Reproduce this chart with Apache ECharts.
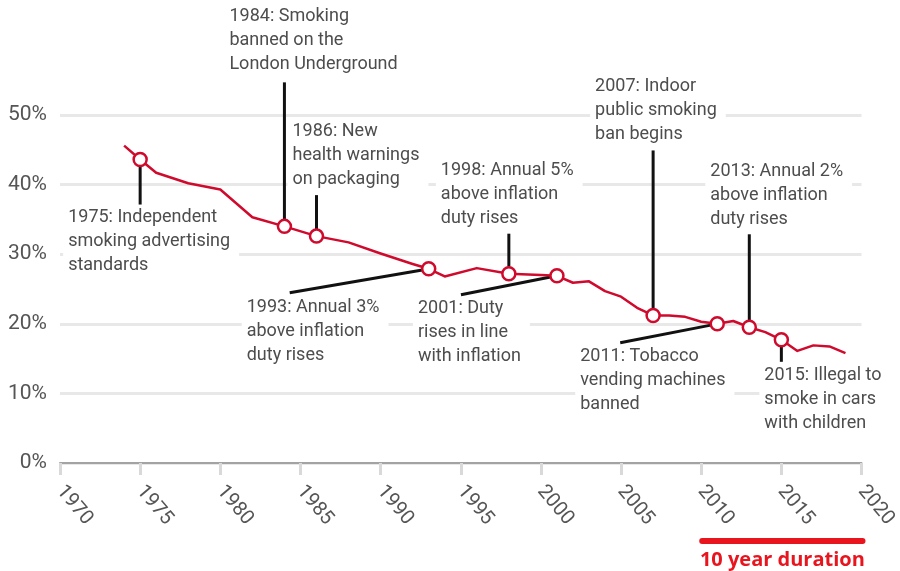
<!DOCTYPE html>
<html>
<head>
<meta charset="utf-8">
<title>Adult smoking prevalence and tobacco control milestones</title>
<script src="https://cdn.jsdelivr.net/npm/echarts@6/dist/echarts.min.js"></script>
<style>
  html, body { margin: 0; padding: 0; background: #fff; }
  #chart { width: 900px; height: 571px; }
</style>
</head>
<body>
<div id="chart"></div>
<script>
// Share of adults who smoke (%), by survey year
const years = [1974, 1975, 1976, 1978, 1980, 1982, 1984, 1986, 1988, 1990, 1992, 1993, 1994, 1996, 1998, 2000, 2001, 2002, 2003, 2004, 2005, 2006, 2007, 2008, 2009, 2010, 2011, 2012, 2013, 2014, 2015, 2016, 2017, 2018, 2019];
const smokingShare = [45.6, 43.6, 41.7, 40.2, 39.3, 35.3, 34.0, 32.6, 31.7, 30.1, 28.6, 27.9, 26.8, 28.0, 27.2, 27.0, 26.9, 25.9, 26.1, 24.7, 23.9, 22.3, 21.2, 21.2, 21.0, 20.3, 20.0, 20.4, 19.5, 18.8, 17.7, 16.1, 16.9, 16.75, 15.8];

// Policy milestones
const eventYears = [1975, 1984, 1986, 1993, 1998, 2001, 2007, 2011, 2013, 2015];
const eventLabels = [
  '1975: Independent\nsmoking advertising\nstandards',
  '1984: Smoking\nbanned on the\nLondon Underground',
  '1986: New\nhealth warnings\non packaging',
  '1993: Annual 3%\nabove inflation\nduty rises',
  '1998: Annual 5%\nabove inflation\nduty rises',
  '2001: Duty\nrises in line\nwith inflation',
  '2007: Indoor\npublic smoking\nban begins',
  '2011: Tobacco\nvending machines\nbanned',
  '2013: Annual 2%\nabove inflation\nduty rises',
  '2015: Illegal to\nsmoke in cars\nwith children'
];

// Axis ticks
const xTicks = [1970, 1975, 1980, 1985, 1990, 1995, 2000, 2005, 2010, 2015, 2020];
const yTicks = [0, 10, 20, 30, 40, 50];

// Span marked under the axis
const durationSpan = [2010, 2020];
const durationLabel = '10 year duration';

// Callout placement, in pixels relative to each milestone point:
// leader line from (l[0], l[1]) to (l[2], l[3]); text block top-left at t
const calloutLayout = [
  { l: [0, 7, 0, 45],         t: [-72, 46] },
  { l: [0, -7, 0, -144],      t: [-55, -222] },
  { l: [0, -7, 0, -41],       t: [-24, -117] },
  { l: [-6.4, 1.1, -139, 24], t: [-182, 27] },
  { l: [0, -7, 0, -40],       t: [-68, -115] },
  { l: [-6.4, 1.3, -96, 19],  t: [-139, 21] },
  { l: [0, -7, 0, -165],      t: [-58, -241] },
  { l: [-6.4, 1.3, -97, 19],  t: [-137, 21] },
  { l: [0, -7, 0, -93],       t: [-39, -168] },
  { l: [0, 7, 0, 22],         t: [-17, 24] }
];

const RED = '#cf0a2c';
const TEXT = '#4d4d4d';
const FONT = 'Roboto, "Noto Sans", sans-serif';

function shareIn(year) {
  return smokingShare[years.indexOf(year)];
}

const linePoints = years.map((y, i) => [y, smokingShare[i]]);
const eventPoints = eventYears.map((y, i) => [y, shareIn(y), i]);

const chart = echarts.init(document.getElementById('chart'), null, { renderer: 'canvas' });

chart.setOption({
  animation: false,
  backgroundColor: '#fff',
  grid: { left: 60, right: 36, top: 115, bottom: 108, containLabel: false },
  xAxis: {
    type: 'value',
    min: xTicks[0],
    max: xTicks[xTicks.length - 1],
    interval: xTicks[1] - xTicks[0],
    axisLine: { show: true, lineStyle: { color: '#a3a3a3', width: 2 } },
    axisTick: { show: true, length: 12, lineStyle: { color: '#d9d9d9', width: 3 } },
    splitLine: { show: false },
    axisLabel: {
      rotate: -50,
      margin: 25,
      color: '#555',
      fontSize: 20,
      fontFamily: FONT,
      formatter: v => String(v)
    }
  },
  yAxis: {
    type: 'value',
    min: yTicks[0],
    max: yTicks[yTicks.length - 1],
    interval: yTicks[1] - yTicks[0],
    axisLine: { show: false },
    axisTick: { show: false },
    splitLine: { show: true, lineStyle: { color: '#e8e8e8', width: 3 } },
    axisLabel: {
      margin: 13,
      color: '#555',
      fontSize: 21,
      fontFamily: FONT,
      formatter: '{value}%'
    }
  },
  series: [
    {
      // callouts: leader lines and labels (white boxes hide the gridlines behind them)
      type: 'custom',
      z: 1,
      clip: false,
      silent: true,
      encode: { x: 0, y: 1 },
      data: eventPoints,
      renderItem: function (params, api) {
        const p = api.coord([api.value(0), api.value(1)]);
        const lay = calloutLayout[api.value(2)];
        return {
          type: 'group',
          children: [
            {
              type: 'text',
              x: p[0] + lay.t[0] - 5,
              y: p[1] + lay.t[1] - 2,
              z2: 1,
              style: {
                text: eventLabels[api.value(2)],
                fill: TEXT,
                fontSize: 18,
                fontFamily: FONT,
                lineHeight: 24,
                align: 'left',
                verticalAlign: 'top',
                backgroundColor: '#fff',
                padding: [2, 9, 2, 5]
              }
            },
            {
              type: 'line',
              z2: 2,
              shape: {
                x1: p[0] + lay.l[0], y1: p[1] + lay.l[1],
                x2: p[0] + lay.l[2], y2: p[1] + lay.l[3]
              },
              style: { stroke: '#111', lineWidth: 3 }
            }
          ]
        };
      }
    },
    {
      type: 'line',
      z: 2,
      data: linePoints,
      showSymbol: false,
      symbol: 'none',
      smooth: false,
      lineStyle: { color: RED, width: 2.5, join: 'round' }
    },
    {
      type: 'scatter',
      z: 3,
      data: eventPoints.map(d => [d[0], d[1]]),
      symbol: 'circle',
      symbolSize: 13,
      itemStyle: { color: '#fff', borderColor: RED, borderWidth: 2.5, opacity: 1 }
    },
    {
      // span bar under the axis with its caption
      type: 'custom',
      z: 3,
      clip: false,
      silent: true,
      encode: { x: [0, 1] },
      data: [durationSpan],
      renderItem: function (params, api) {
        const a = api.coord([api.value(0), 0]);
        const b = api.coord([api.value(1), 0]);
        const yBar = a[1] + 78;
        return {
          type: 'group',
          children: [
            {
              type: 'line',
              shape: { x1: a[0] + 1, y1: yBar, x2: b[0] + 1, y2: yBar },
              style: { stroke: '#e8151f', lineWidth: 6, lineCap: 'round' }
            },
            {
              type: 'text',
              x: (a[0] + b[0]) / 2 + 1,
              y: yBar + 9,
              style: {
                text: durationLabel,
                fill: '#e8151f',
                fontSize: 20,
                fontWeight: 'bold',
                fontFamily: '"Open Sans", sans-serif',
                align: 'center',
                verticalAlign: 'top'
              }
            }
          ]
        };
      }
    }
  ]
});
</script>
</body>
</html>
